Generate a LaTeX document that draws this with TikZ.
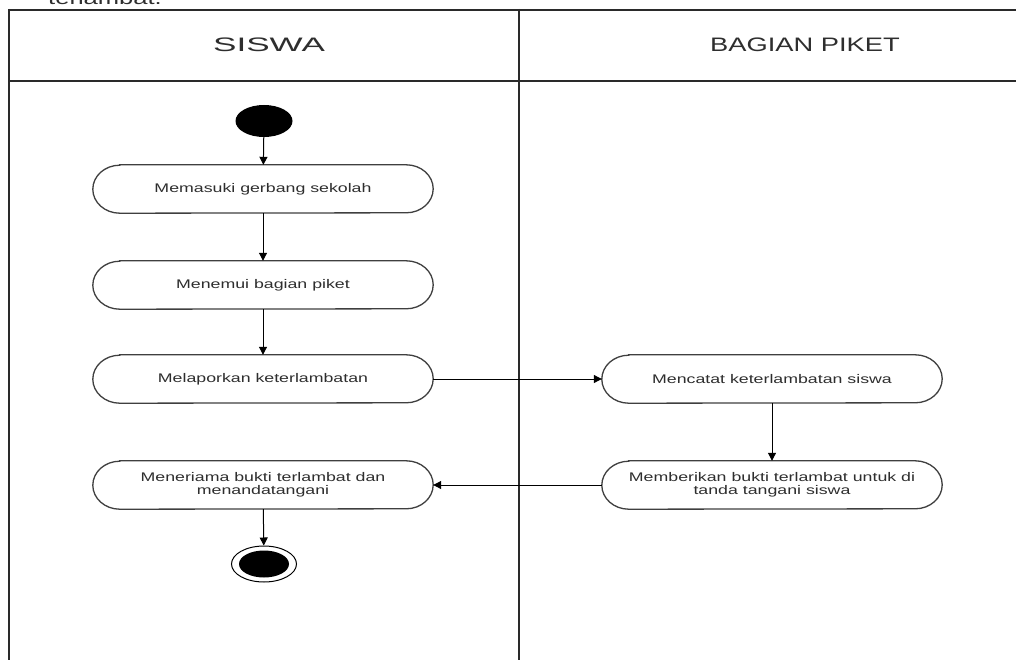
\documentclass[tikz,border=0pt]{standalone}
\usepackage{fontspec}
\setmainfont{Liberation Sans}
\newfontfamily\actfont[FakeStretch=1.42]{Liberation Sans}
\newfontfamily\hdfont[FakeStretch=1.4]{Liberation Sans}
\newfontfamily\hdwide[FakeStretch=1.8]{Liberation Sans}
\usetikzlibrary{arrows.meta,shapes.geometric}
\definecolor{txt}{HTML}{2E2E2E}
\definecolor{lane}{HTML}{2A2A2A}
\tikzset{
  laneline/.style={draw=lane,line width=2pt},
  act/.style={minimum width=340pt,minimum height=48pt,inner sep=0pt,align=center,
    text=txt,font=\actfont\fontsize{12.5}{13.5}\selectfont},
  actline/.style={draw=lane!90,line width=1.3pt},
  flow/.style={draw=black,line width=1pt,-{Triangle[length=8pt,width=8pt]}},
  header/.style={text=txt,font=\hdfont\fontsize{19.5}{22}\selectfont}
}
\newcommand\stadium[1]{\draw[actline] ([xshift=27pt]#1.north west) -- ([xshift=-27pt]#1.north east)
  arc[start angle=90,end angle=-90,x radius=27pt,y radius=24pt] -- ([xshift=27pt]#1.south west)
  arc[start angle=270,end angle=90,x radius=27pt,y radius=24pt] -- cycle;}
\begin{document}
\begin{tikzpicture}[x=1pt,y=-1pt]
\useasboundingbox (0,0) rectangle (1016,660);
\clip (0,0) rectangle (1016,660);
\fill[white] (0,0) rectangle (1016,660);
\node[header,anchor=base west,inner sep=0pt,font=\actfont\fontsize{18}{20}\selectfont] (prev) at (48,5) {terlambat.};
% lanes
\draw[laneline] (9,10) -- (1017,10);
\draw[laneline] (9,81) -- (1017,81);
\draw[laneline] (9,9) -- (9,661);
\draw[laneline] (519,9) -- (519,661);
\node[header,font=\hdwide\fontsize{19.5}{22}\selectfont] (h1) at (269,45) {SISWA};
\node[header] (h2) at (805,45) {BAGIAN PIKET};
% nodes
\node[ellipse,fill=black,minimum width=57pt,minimum height=32pt,inner sep=0pt] (start) at (264,121) {};
\node[act] (a1) at (263,189) {Memasuki gerbang sekolah};
\node[act] (a2) at (263,285) {Menemui bagian piket};
\node[act] (a3) at (263,379) {Melaporkan keterlambatan};
\node[act] (a4) at (263,485) {Meneriama bukti terlambat dan\\menandatangani};
\node[act] (b1) at (772,379) {Mencatat keterlambatan siswa};
\node[act] (b2) at (772,485) {Memberikan bukti terlambat untuk di\\tanda tangani siswa};
\foreach \n in {a1,a2,a3,a4,b1,b2}{\stadium{\n}}
\node[ellipse,draw=black,line width=1pt,fill=white,minimum width=65pt,minimum height=36pt,inner sep=0pt] (end) at (264,564) {};
\node[ellipse,fill=black,minimum width=50pt,minimum height=27pt,inner sep=0pt] (endin) at (264,564) {};
% flows
\draw[flow] (start) -- (a1);
\draw[flow] (a1) -- (a2);
\draw[flow] (a2) -- (a3);
\draw[flow] (a3) -- (b1);
\draw[flow] (b1) -- (b2);
\draw[flow] (b2) -- (a4);
\draw[flow] (a4) -- (end);
\end{tikzpicture}
\end{document}
